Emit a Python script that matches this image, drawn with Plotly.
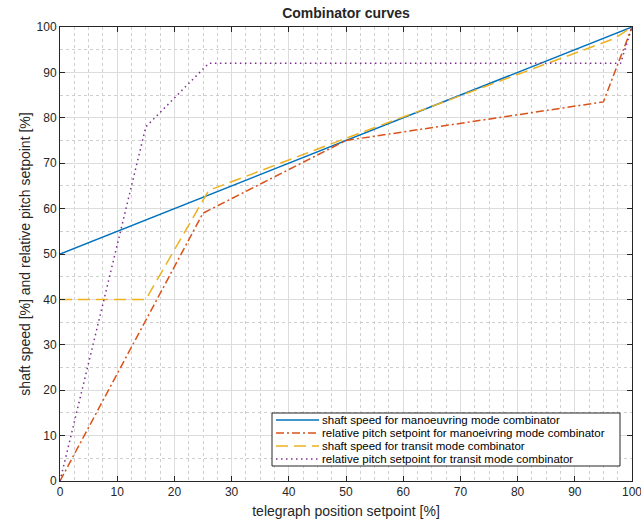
import plotly.graph_objects as go

# Data
blue_x = [0, 100]
blue_y = [50, 100]

red_x = [0, 25, 50, 95, 100]
red_y = [0, 59, 75, 83.5, 100]

yellow_x = [0, 15, 26, 50, 97, 100]
yellow_y = [40, 40, 64, 75.5, 97.5, 100]

purple_x = [0, 15, 26, 98, 100]
purple_y = [0, 78, 92, 92, 100]

names = [
    "shaft speed for manoeuvring mode combinator",
    "relative pitch setpoint for manoeivring mode combinator",
    "shaft speed for transit mode combinator",
    "relative pitch setpoint for transit mode combinator",
]
colors = ["#0072BD", "#D95319", "#EDB120", "#7E2F8E"]
dashes = ["solid", "8px,3px,2px,3px", "12px,6px", "1.5px,3.5px"]

FONT = "Liberation Sans, Arial, Helvetica, sans-serif"

# plot-area geometry in pixels
W, H = 641, 526
L, R, T, B = 60, 632, 27, 481

fig = go.Figure()
series = [(blue_x, blue_y), (red_x, red_y), (yellow_x, yellow_y), (purple_x, purple_y)]
for (xs, ys), nm, c, d in zip(series, names, colors, dashes):
    fig.add_trace(go.Scatter(x=xs, y=ys, mode="lines", name=nm, showlegend=False,
                             line=dict(color=c, width=1.5, dash=d)))

axis_common = dict(
    range=[0, 100], dtick=10, tick0=0, automargin=False,
    showline=True, linecolor="#262626", linewidth=1, mirror="ticks",
    ticks="inside", ticklen=5, tickcolor="#262626",
    showgrid=True, gridcolor="#dcdcdc", gridwidth=1,
    zeroline=False, ticklabeloverflow="allow",
    tickfont=dict(family=FONT, size=12, color="#262626"),
)

fig.update_xaxes(**axis_common,
                 minor=dict(dtick=2.5, showgrid=True, gridcolor="#cfcfcf",
                            griddash="dot", gridwidth=1, ticks=""),
                 title=dict(text="telegraph position setpoint [%]",
                            font=dict(family=FONT, size=14, color="#262626"),
                            standoff=7))
fig.update_yaxes(**axis_common,
                 minor=dict(dtick=5, showgrid=True, gridcolor="#cfcfcf",
                            griddash="dot", gridwidth=1, ticks=""),
                 title=dict(text="shaft speed [%] and relative pitch setpoint [%]",
                            font=dict(family=FONT, size=14, color="#262626"),
                            standoff=2))

# Legend drawn manually (compact MATLAB-style box)
def px2paper(px, py):
    return (px - L) / (R - L), (B - py) / (B - T)

box_l, box_r, box_t, box_b = 272, 620, 413, 466
x0, y0 = px2paper(box_l, box_b)
x1, y1 = px2paper(box_r, box_t)
shapes = [dict(type="rect", xref="paper", yref="paper", x0=x0, y0=y0, x1=x1, y1=y1,
               fillcolor="white", line=dict(color="#262626", width=1), layer="above")]
annotations = []
row_y = [420, 433, 446, 459]
for i, (nm, c, d) in enumerate(zip(names, colors, dashes)):
    lx0, ly = px2paper(276, row_y[i])
    lx1, _ = px2paper(319, row_y[i])
    tx, _ = px2paper(321, row_y[i])
    shapes.append(dict(type="line", xref="paper", yref="paper", x0=lx0, x1=lx1, y0=ly, y1=ly,
                       line=dict(color=c, width=1.5, dash=d), layer="above"))
    annotations.append(dict(text=nm, xref="paper", yref="paper", x=tx, y=ly,
                            xanchor="left", yanchor="middle", showarrow=False,
                            borderpad=0,
                            font=dict(family=FONT, size=11.5, color="#000000")))

fig.update_layout(
    width=W, height=H,
    margin=dict(l=L, r=W - R, t=T, b=H - B),
    paper_bgcolor="white", plot_bgcolor="white",
    title=dict(text="<b>Combinator curves</b>", x=(L + R) / 2 / W, xanchor="center",
               y=1 - 13 / H, yanchor="middle", automargin=False,
               font=dict(family=FONT, size=14, color="#262626")),
    shapes=shapes, annotations=annotations,
    showlegend=False,
)

fig.write_html("out.html", config={"displayModeBar": False},
               post_script="document.body.style.margin='0';document.body.style.overflow='hidden';")
